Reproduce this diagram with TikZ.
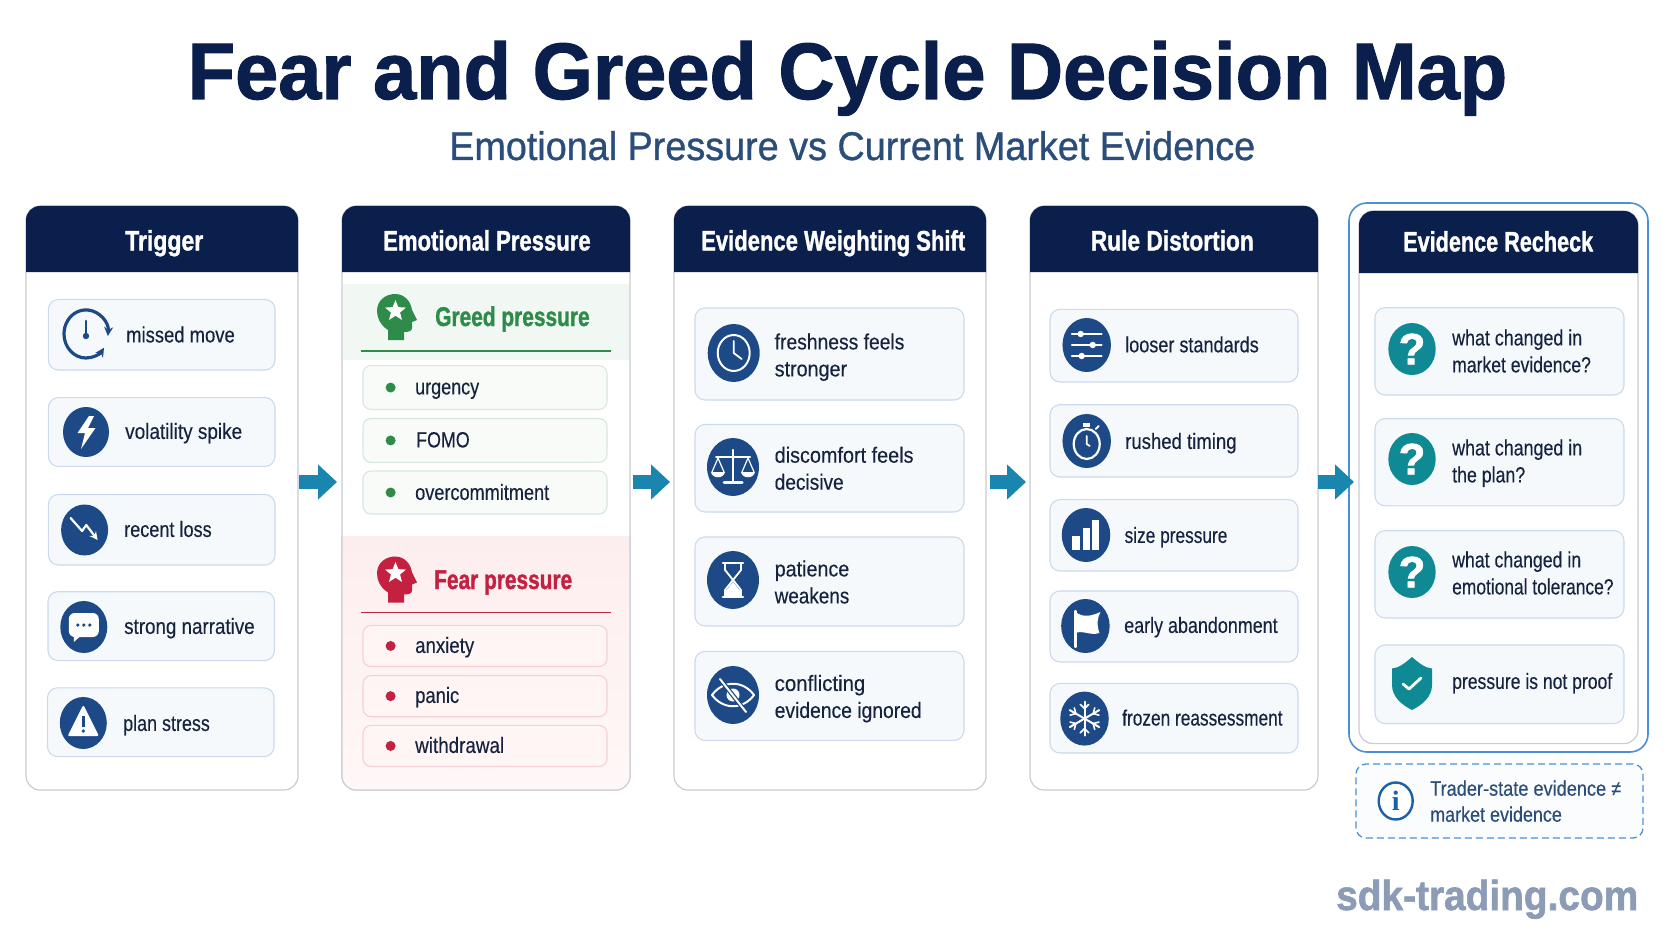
\documentclass[tikz,border=0pt]{standalone}
\usepackage{fontspec}
\usepackage{graphicx}
\setmainfont{Liberation Sans}[UprightFeatures={FakeBold=0.35}]
\newfontfamily\heavy{Liberation Sans}[BoldFeatures={FakeBold=1.4}]
\newfontfamily\subfont{Liberation Sans}[UprightFeatures={FakeBold=0.9}]
\newfontfamily\infofont{Liberation Serif}
\usetikzlibrary{arrows.meta,shapes.geometric}
\definecolor{navy}{HTML}{0B1F4D}
\definecolor{icoblue}{HTML}{1D4A87}
\definecolor{subblue}{HTML}{2B4D7A}
\definecolor{txt}{HTML}{16233F}
\definecolor{flow}{HTML}{1A86B0}
\definecolor{teal2}{HTML}{0F8A94}
\definecolor{panelb}{HTML}{C8CCD4}
\definecolor{itemb}{HTML}{CBDAEC}
\definecolor{itemf}{HTML}{F6F9FC}
\definecolor{gband}{HTML}{F1F8F3}
\definecolor{gitemf}{HTML}{F8FBF8}
\definecolor{gitemb}{HTML}{D8E8DC}
\definecolor{green2}{HTML}{2E8B4A}
\definecolor{rbandt}{HTML}{FDEEEE}
\definecolor{rbandb}{HTML}{FFF7F7}
\definecolor{ritemf}{HTML}{FFF5F5}
\definecolor{ritemb}{HTML}{F5CFD3}
\definecolor{red2}{HTML}{C4203F}
\definecolor{outerb}{HTML}{4A90D9}
\definecolor{infob}{HTML}{1B5FA8}
\definecolor{wmark}{HTML}{8C9CB6}
\newcommand\fitx[2]{\strut\resizebox{#1pt}{\height}{#2}}
\tikzset{
  panelbox/.style={draw=panelb,fill=white,line width=1.2pt,rounded corners=14pt,inner sep=0pt,outer sep=0pt},
  itembox/.style={draw=itemb,fill=itemf,line width=1.1pt,rounded corners=10pt,inner sep=0pt,outer sep=0pt},
  greenbox/.style={itembox,draw=gitemb,fill=gitemf,rounded corners=8pt},
  redbox/.style={itembox,draw=ritemb,fill=ritemf,rounded corners=8pt},
  headtxt/.style={text=white,inner sep=0pt,anchor=west,font=\fontsize{28}{32}\selectfont\bfseries\heavy},
  itxt/.style={text=txt,inner sep=0pt,anchor=west,align=left,font=\fontsize{22}{27}\selectfont},
  flowarrow/.style={draw=flow,line width=14pt,-{Triangle[length=19pt,width=34pt]}},
  iconbg/.style={ellipse,inner sep=0pt,outer sep=0pt},
  wl/.style={draw=white,line width=2.2pt,line cap=round,line join=round},
}
\newcommand\panel[8]{%
  \node[panelbox,minimum width={(#4)-(#2)},minimum height={(#5)-(#3)}] (#1) at ({((#2)+(#4))/2},{((#3)+(#5))/2}) {};
  \fill[navy] (#2,#6) [rounded corners=14pt] -- (#2,#3) -- (#4,#3) [sharp corners] -- (#4,#6) -- cycle;
}
\newcommand\itm[6]{\node[#6,minimum width={(#4)-(#2)},minimum height={(#5)-(#3)}] (#1) at ({((#2)+(#4))/2},{((#3)+(#5))/2}) {};}
\newcommand\tl[4]{\node[itxt] (#1) at (#2,{#3+1.5}) {#4};}
\newcommand\icon[7]{\node[iconbg,fill=#1,minimum width=#5pt,minimum height=#6pt] (#2) at (#3,#4) {};
  \begin{scope}[shift={(#3,#4)}]#7\end{scope}}
\newcommand\headglyph[3]{% colour, x, y
  \begin{scope}[shift={(#2,#3)}]
  \fill[#1] (-9,23) -- (-9,13) .. controls (-17,8) and (-20,0) .. (-20,-6) .. controls (-20,-17) and (-11,-23) .. (-2,-23) .. controls (8,-23) and (14,-15) .. (15,-7) -- (20,3) -- (15,5) -- (15,11) .. controls (15,14) and (12,15) .. (7,15) -- (7,23) -- cycle;
  \end{scope}}
\newcommand\qmark[1]{\node[text=white,inner sep=0pt,font=\fontsize{44}{46}\selectfont\bfseries\heavy] (#1) at (0,0) {?};}
\begin{document}
\begin{tikzpicture}[x=1pt,y=1pt,yscale=-1]
\useasboundingbox (0,0) rectangle (1672,941);
\fill[white] (0,0) rectangle (1672,941);
\node[anchor=base west,inner sep=0pt,text=navy,font=\fontsize{80}{84}\selectfont\bfseries\heavy] (title) at (187.5,99) {\resizebox{1319.5pt}{\height}{Fear and Greed Cycle Decision Map}};
\node[anchor=base west,inner sep=0pt,text=subblue,font=\fontsize{40}{44}\selectfont\subfont] (subtitle) at (449,160) {\resizebox{806pt}{\height}{Emotional Pressure vs Current Market Evidence}};

% column 5 frame
\node[draw=outerb,fill=white,line width=1.6pt,rounded corners=18pt,minimum width=299pt,minimum height=549pt,inner sep=0pt] (outer) at (1498.5,477.5) {};

% panels
\panel{p1}{26}{206}{298}{790}{272}{}{}
\panel{p2}{342}{206}{630}{790}{272}{}{}
\panel{p3}{674}{206}{986}{790}{272}{}{}
\panel{p4}{1030}{206}{1318}{790}{272}{}{}
\panel{p5}{1359}{211}{1638}{743.6}{273}{}{}

\node[headtxt] (h1) at (125,244) {\fitx{78}{Trigger}};
\node[headtxt] (h2) at (383,244) {\fitx{207.5}{Emotional Pressure}};
\node[headtxt] (h3) at (701,244) {\fitx{264}{Evidence Weighting Shift}};
\node[headtxt] (h4) at (1090.6,244) {\fitx{163}{Rule Distortion}};
\node[headtxt] (h5) at (1403,245) {\fitx{190}{Evidence Recheck}};

% panel 1
\itm{a1}{48.4}{299.5}{275}{370}{itembox}
\itm{a2}{48.4}{397.6}{275}{466.4}{itembox}
\itm{a3}{48.4}{494.5}{275}{565}{itembox}
\itm{a4}{48}{591.7}{274.5}{660.5}{itembox}
\itm{a5}{47.5}{687.8}{274}{756.6}{itembox}
\begin{scope}[shift={(86,334)}]
  \draw[icoblue,line width=3.2pt,{Stealth[length=9pt,width=9pt]}-] (21.9,2) arc[start angle=5,end angle=-180,x radius=22,y radius=24];
  \draw[icoblue,line width=3.2pt,-{Stealth[length=9pt,width=9pt]}] (-22,0) arc[start angle=180,end angle=35,x radius=22,y radius=24];
  \draw[icoblue,line width=2.6pt,line cap=round] (0,-13) -- (0,1);
  \fill[icoblue] (0,2) circle (3.2);
\end{scope}
\icon{icoblue}{ic12}{86}{432}{46}{50}{\fill[white,line join=round] (3,-16) -- (-8.5,1) -- (-1,1) -- (-5,17) -- (9.5,-4) -- (2,-4) -- (8,-16) -- cycle;}
\icon{icoblue}{ic13}{84.6}{530}{47}{51}{\draw[wl,-{Stealth[length=8pt,width=8pt]}] (-14,-12) -- (-2.5,1) -- (1.7,-5) -- (13,10);}
\icon{icoblue}{ic14}{83.8}{627}{47}{52}{\fill[white,rounded corners=6pt] (-15,-14) rectangle (15,10); \fill[white] (-10,8) -- (-10,15) -- (-2,8) -- cycle; \foreach \dx in {-6,0,6} \fill[icoblue] (\dx,-2) circle (1.8);}
\icon{icoblue}{ic15}{83.3}{723}{47}{52}{\fill[white,draw=white,line width=2pt,line join=round] (0,-16) -- (-14,12) -- (14,12) -- cycle; \fill[icoblue] (-1.4,-7) rectangle (1.4,4); \fill[icoblue] (0,8) circle (1.8);}
\tl{t1}{126}{335.5}{\fitx{108.6}{missed move}}
\tl{t2}{125}{432}{\fitx{117}{volatility spike}}
\tl{t3}{124}{530}{\fitx{87.5}{recent loss}}
\tl{t4}{124}{627}{\fitx{130.5}{strong narrative}}
\tl{t5}{123}{724}{\fitx{86.7}{plan stress}}

% panel 2
\fill[gband] (342.6,283.7) rectangle (629.4,360);
\shade[top color=rbandt,bottom color=rbandb,rounded corners=14pt] (342,536) [sharp corners] -- (630,536) [rounded corners=14pt] -- (630,790) -- (342,790) [sharp corners] -- cycle;
\draw[draw=panelb!80!ritemb,line width=1.2pt,rounded corners=14pt] (342,536) -- (342,790) -- (630,790) -- (630,536);
\headglyph{green2}{397}{317}
\node[star,star points=5,star point ratio=2.3,fill=white,minimum size=22pt,inner sep=0pt] (sg) at (395.5,311) {};
\node[inner sep=0pt,anchor=west,text=green2,font=\fontsize{27}{30}\selectfont\bfseries\heavy] (gp) at (435,320) {\fitx{154.5}{Greed pressure}};
\draw[green2,line width=1.4pt] (361,351) -- (611,351);
\itm{g1}{363}{365.6}{607}{409.5}{greenbox}
\itm{g2}{363}{418.5}{607}{462.4}{greenbox}
\itm{g3}{363}{471}{607}{514}{greenbox}
\foreach \n in {g1,g2,g3} \fill[green2] (390.6,0 |- \n) circle (5);
\tl{g1t}{415}{387.5}{\fitx{64}{urgency}}
\tl{g2t}{416}{440.5}{\fitx{53.5}{FOMO}}
\tl{g3t}{415}{493}{\fitx{134}{overcommitment}}
\headglyph{red2}{397}{579.5}
\node[star,star points=5,star point ratio=2.3,fill=white,minimum size=22pt,inner sep=0pt] (sr) at (395.5,573) {};
\node[inner sep=0pt,anchor=west,text=red2,font=\fontsize{27}{30}\selectfont\bfseries\heavy] (fp) at (434,583) {\fitx{138}{Fear pressure}};
\draw[red2,line width=1.4pt] (361,612.7) -- (611,612.7);
\itm{r1}{363}{625.4}{607}{666.5}{redbox}
\itm{r2}{363}{675.6}{607}{716.7}{redbox}
\itm{r3}{363}{725.4}{607}{766.5}{redbox}
\foreach \n in {r1,r2,r3} \fill[red2] (390.6,0 |- \n) circle (5);
\tl{r1t}{415}{646}{\fitx{59}{anxiety}}
\tl{r2t}{415}{696}{\fitx{44}{panic}}
\tl{r3t}{415}{746}{\fitx{89}{withdrawal}}

% panel 3
\itm{b1}{695}{308}{964}{400}{itembox}
\itm{b2}{695}{424.5}{964}{512}{itembox}
\itm{b3}{695}{537}{964}{626}{itembox}
\itm{b4}{695}{651.4}{964}{740.4}{itembox}
\icon{icoblue}{ic31}{733.7}{353}{52}{58}{\draw[white,line width=2pt] (0,0) ellipse (16 and 18); \draw[wl,line width=1.8pt] (0,-12) -- (0,0) -- (8,6);}
\icon{icoblue}{ic32}{733}{467}{52}{58}{
  \draw[wl,line width=2.4pt] (0,-17) -- (0,14);
  \draw[wl,line width=3pt] (-9,15) -- (9,15);
  \draw[wl,line width=2pt] (-17,-10) -- (17,-10);
  \draw[wl,line width=1.2pt] (-21,5) -- (-15,-9) -- (-9,5);
  \draw[wl,line width=1.2pt] (21,5) -- (15,-9) -- (9,5);
  \fill[white] (-22,5) .. controls (-21,12) and (-9,12) .. (-8,5) -- cycle;
  \fill[white] (22,5) .. controls (21,12) and (9,12) .. (8,5) -- cycle;}
\icon{icoblue}{ic33}{733}{580}{52}{58}{
  \draw[wl,line width=2.6pt] (-10,-17) -- (10,-17);
  \draw[wl,line width=2.6pt] (-10,17) -- (10,17);
  \draw[wl,line width=1.8pt] (-8,-16) -- (-8,-10) -- (0,0) -- (-8,10) -- (-8,16);
  \draw[wl,line width=1.8pt] (8,-16) -- (8,-10) -- (0,0) -- (8,10) -- (8,16);
  \fill[white] (0,2) -- (8,12) -- (8,16) -- (-8,16) -- (-8,12) -- cycle;}
\icon{icoblue}{ic34}{733}{695}{52}{58}{
  \draw[wl,line width=2pt] (-21,0) .. controls (-10,-15) and (10,-15) .. (21,0) .. controls (10,15) and (-10,15) .. (-21,0) -- cycle;
  \fill[white] (0,0) circle (6.5);
  \draw[icoblue,line width=4.5pt] (-13,-16) -- (13,17);
  \draw[wl,line width=2pt] (-13,-16) -- (13,17);}
\tl{c1}{774.5}{356}{\fitx{129.7}{freshness feels}\\\fitx{72.4}{stronger}}
\tl{c2}{774.5}{469.3}{\fitx{138.8}{discomfort feels}\\\fitx{69}{decisive}}
\tl{c3}{774.5}{583}{\fitx{74.6}{patience}\\\fitx{74.6}{weakens}}
\tl{c4}{774.5}{697.5}{\fitx{90.6}{conflicting}\\\fitx{147}{evidence ignored}}

% panel 4
\itm{d1}{1050}{309.4}{1298}{382}{itembox}
\itm{d2}{1050}{404.7}{1298}{477}{itembox}
\itm{d3}{1050}{499.6}{1298}{571}{itembox}
\itm{d4}{1050}{591}{1298}{662}{itembox}
\itm{d5}{1050}{683.5}{1298}{753}{itembox}
\icon{icoblue}{ic41}{1086.7}{345}{48.5}{54}{
  \foreach \yy/\xx in {-11/-6,0/6,11/-5} {\draw[wl,line width=1.6pt] (-15,\yy) -- (15,\yy); \fill[white] (\xx,\yy) circle (3.2);}}
\icon{icoblue}{ic42}{1086.7}{441}{48.5}{54}{
  \draw[white,line width=2.2pt] (0,3) ellipse (13 and 15);
  \fill[white] (-3.5,-18) rectangle (3.5,-14);
  \draw[wl,line width=2pt] (9,-12) -- (12,-15);
  \draw[wl,line width=1.8pt] (0,-5) -- (0,3) -- (3,5);}
\icon{icoblue}{ic43}{1086}{535}{48.5}{54}{
  \fill[white] (-14.3,1) rectangle (-6.5,15);
  \fill[white] (-3.5,-7) rectangle (3.5,15);
  \fill[white] (6,-15) rectangle (13,15);}
\icon{icoblue}{ic44}{1085.4}{626}{48.5}{54}{
  \draw[wl,line width=2.2pt] (-10,-15) -- (-10,21);
  \fill[white] (-10,-14) .. controls (-2,-8) and (6,-10) .. (15,-14) .. controls (12,-8) and (11,-2) .. (14,7) .. controls (5,10) and (-2,4) .. (-10,7) -- cycle;}
\icon{icoblue}{ic45}{1084.5}{718.6}{48.5}{54}{
  \foreach \a in {30,90,150,210,270,330} {
    \draw[wl,line width=2pt] (0,0) -- (\a:17);
    \draw[wl,line width=1.6pt] (\a:10) -- ++(\a+45:6);
    \draw[wl,line width=1.6pt] (\a:10) -- ++(\a-45:6);}}
\tl{e1}{1125}{345.4}{\fitx{133.6}{looser standards}}
\tl{e2}{1125}{442}{\fitx{111.4}{rushed timing}}
\tl{e3}{1124.4}{536}{\fitx{102.8}{size pressure}}
\tl{e4}{1124}{626}{\fitx{153.5}{early abandonment}}
\tl{e5}{1122}{718.6}{\fitx{160.4}{frozen reassessment}}

% panel 5
\itm{f1}{1375}{307.7}{1624}{395}{itembox}
\itm{f2}{1375}{418.7}{1624}{505.8}{itembox}
\itm{f3}{1375}{530.7}{1624}{618}{itembox}
\itm{f4}{1375}{645}{1624}{723.5}{itembox}
\icon{teal2}{ic51}{1412}{349}{47.4}{52}{\qmark{q1}}
\icon{teal2}{ic52}{1412}{459}{47.4}{52}{\qmark{q2}}
\icon{teal2}{ic53}{1412}{572}{47.4}{52}{\qmark{q3}}
\begin{scope}[shift={(1412,683)}]
  \fill[teal2] (0,-26) .. controls (-7,-20) and (-13,-15) .. (-20,-14.5) -- (-20,2) .. controls (-20,14) and (-10,22) .. (0,27) .. controls (10,22) and (20,14) .. (20,2) -- (20,-14.5) .. controls (13,-15) and (7,-20) .. (0,-26) -- cycle;
  \draw[wl,line width=2.8pt] (-9,1) -- (-3,6) -- (9,-5);
\end{scope}
\tl{k1}{1452}{352}{\fitx{130}{what changed in}\\\fitx{138.7}{market evidence?}}
\tl{k2}{1452}{462}{\fitx{130}{what changed in}\\\fitx{73}{the plan?}}
\tl{k3}{1452}{574}{\fitx{129}{what changed in}\\\fitx{161.3}{emotional tolerance?}}
\tl{k4}{1452}{682}{\fitx{160}{pressure is not proof}}

% note
\node[draw=outerb,fill=itemf!50!white,line width=1.3pt,dashed,dash pattern=on 7pt off 4pt,rounded corners=10pt,minimum width=287pt,minimum height=74pt,inner sep=0pt] (note) at (1499.5,801) {};
\node[iconbg,draw=infob,fill=white,line width=2.4pt,minimum width=34pt,minimum height=37pt] (ni) at (1395.7,801) {};
\node[inner sep=0pt,text=infob,font=\fontsize{28}{30}\selectfont\bfseries\infofont] (nitxt) at (ni) {i};
\node[itxt,text=subblue,font=\fontsize{21}{26}\selectfont] (nt) at (1430,803.5) {\fitx{191}{Trader-state evidence ≠}\\\fitx{131.7}{market evidence}};

% watermark
\node[anchor=base west,inner sep=0pt,text=wmark,font=\fontsize{42}{46}\selectfont\bfseries\heavy] (wm) at (1336,910) {\resizebox{302pt}{\height}{sdk-trading.com}};

% arrows
\coordinate (ay) at (0,482);
\draw[flowarrow] ([xshift=1pt]p1.east |- ay) -- ([xshift=-5pt]p2.west |- ay);
\draw[flowarrow] ([xshift=3pt]p2.east |- ay) -- ([xshift=-4pt]p3.west |- ay);
\draw[flowarrow] ([xshift=4pt]p3.east |- ay) -- ([xshift=-4pt]p4.west |- ay);
\draw[flowarrow] (p4.east |- ay) -- ([xshift=-5pt]p5.west |- ay);
\end{tikzpicture}
\end{document}
